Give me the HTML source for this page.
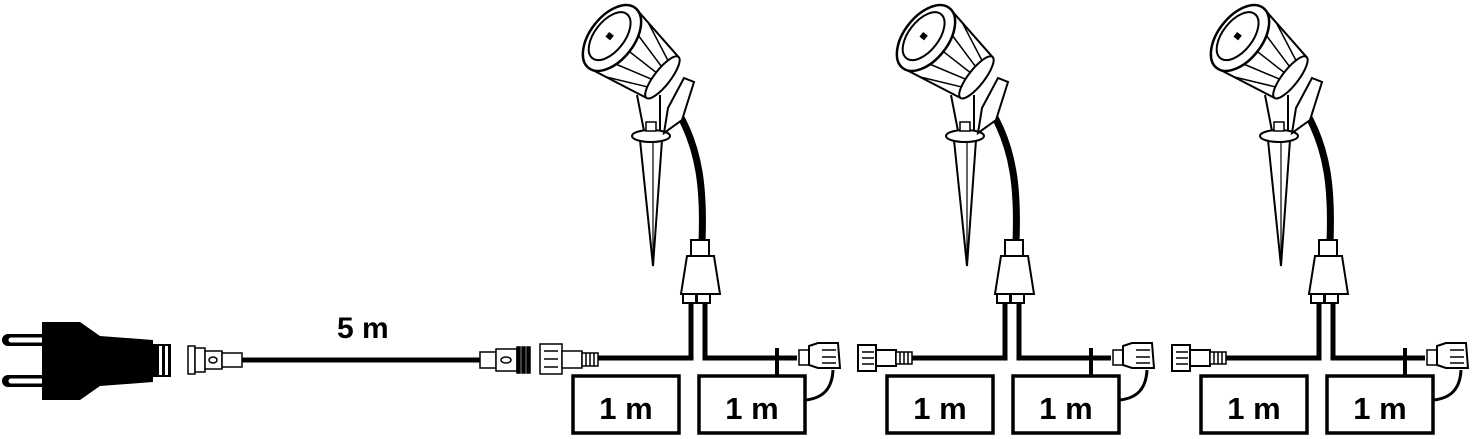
<!DOCTYPE html>
<html><head><style>
html,body{margin:0;padding:0;background:#fff;}
svg{display:block;}
text{font-family:"Liberation Sans",sans-serif;font-weight:bold;}
</style></head><body>
<svg width="1473" height="439" viewBox="0 0 1473 439" xmlns="http://www.w3.org/2000/svg">
<defs>
<g id="unit" fill="none" stroke="#000" stroke-width="2.5">
  <!-- spike -->
  <path d="M640,140 L662,140 L653,266 Z" fill="#fff" stroke-width="2"/>
  <path d="M653,140 L653,262" stroke-width="1.2"/>
  <ellipse cx="651" cy="136" rx="19" ry="6" fill="#fff" stroke-width="2"/>
  <path d="M637,95 L644,131 M660,95 L660,131" stroke-width="2"/>
  <rect x="646" y="122" width="10" height="9" fill="#fff" stroke-width="1.5"/>
  <!-- black cable -->
  <path d="M678,112 C700,150 704,190 702,242" stroke-width="7"/>
  <!-- bracket -->
  <path d="M684,78 L694,82 L682,120 L664,133 L668,108 Z" fill="#fff" stroke-width="2"/>
  <!-- head -->
  <g transform="translate(612,38) rotate(38)">
    <path d="M0,-38 L64,-26 L64,26 L0,38 Z" fill="#fff" stroke-width="2"/>
    <path d="M20,-34 L64,-14 M20,34 L64,14 M20,-18 L64,-6 M20,18 L64,6 M22,0 L64,0" stroke-width="1.5"/>
    <ellipse cx="64" cy="0" rx="8" ry="26" fill="#fff" stroke-width="2"/>
    <ellipse cx="0" cy="0" rx="22" ry="38" fill="#fff" stroke-width="2.5"/>
    <ellipse cx="-3" cy="0" rx="15" ry="28" fill="#fff" stroke-width="2"/>
    <rect x="-6" y="-3" width="6" height="6" fill="#000" stroke="none"/>
  </g>
  <!-- hub -->
  <rect x="691" y="240" width="18" height="16" fill="#fff" stroke-width="2"/>
  <path d="M687,256 L714,256 L720,294 L681,294 Z" fill="#fff" stroke-width="2"/>
  <rect x="683" y="294" width="13" height="9" fill="#fff" stroke-width="2"/>
  <rect x="697" y="294" width="13" height="9" fill="#fff" stroke-width="2"/>
  <!-- wires -->
  <path d="M691,303 L691,358 L598,358" stroke-width="5"/>
  <path d="M705,303 L705,358 L797,358" stroke-width="5"/>
  <path d="M777,348 L777,376" stroke-width="4"/>
  <!-- boxes -->
  <rect x="573" y="376" width="106" height="57" stroke-width="3.5"/>
  <rect x="699" y="376" width="106" height="57" stroke-width="3.5"/>
  <text x="626" y="419" font-size="31" text-anchor="middle" fill="#000" stroke="none">1 m</text>
  <text x="752" y="419" font-size="31" text-anchor="middle" fill="#000" stroke="none">1 m</text>
  <!-- male end connector -->
  <path d="M806,400 C822,398 832,390 833,370" stroke-width="3"/>
  <rect x="799" y="350" width="10" height="15" fill="#fff" stroke-width="1.5"/>
  <path d="M809,346 L818,343 L838,343 L840,368 L818,368 L809,365 Z" fill="#fff" stroke-width="2"/>
  <path d="M822,350 L836,350 M822,357 L836,357 M822,363 L836,363" stroke-width="1.5"/>
</g>
<g id="socket" fill="none" stroke="#000" stroke-width="2">
  <rect x="0" y="0" width="18" height="26" fill="#fff"/>
  <path d="M4,7 L16,7 M4,13 L16,13 M4,19 L16,19" stroke-width="1.5"/>
  <rect x="18" y="5" width="20" height="16" fill="#fff"/>
  <rect x="38" y="7" width="16" height="12" fill="#fff" stroke-width="1.5"/>
  <path d="M42,7 L42,19 M46,7 L46,19 M50,7 L50,19" stroke-width="1.5"/>
</g>
</defs>

<!-- plug -->
<path d="M8,340 L44,340 M8,381 L44,381" stroke="#000" stroke-width="12" stroke-linecap="round"/>
<path d="M11,340 L44,340 M11,381 L44,381" stroke="#fff" stroke-width="5" stroke-linecap="round"/>
<path d="M42,322 L80,322 L100,336 L153,340 L153,382 L100,386 L80,400 L42,400 Z" fill="#000"/>
<rect x="153" y="344" width="18" height="33" fill="#000"/>
<rect x="159" y="346" width="3" height="29" fill="#fff"/><rect x="165" y="346" width="3" height="29" fill="#fff"/>
<g stroke="#000" stroke-width="1.5" fill="#fff">
<rect x="188" y="346" width="7" height="28"/>
<rect x="195" y="348" width="10" height="24"/>
<rect x="205" y="351" width="17" height="18"/>
<ellipse cx="213" cy="360" rx="4" ry="3"/>
<rect x="222" y="353" width="20" height="14"/>
</g>
<line x1="242" y1="360" x2="480" y2="360" stroke="#000" stroke-width="5"/>
<text x="337" y="338" font-size="30" fill="#000">5 m</text>
<g stroke="#000" stroke-width="1.5" fill="#fff">
<rect x="480" y="352" width="16" height="16"/>
<rect x="496" y="349" width="21" height="22"/>
<ellipse cx="506" cy="360" rx="5" ry="3"/>
<rect x="517" y="347" width="3" height="26" fill="#000"/>
<rect x="522" y="347" width="3" height="26" fill="#000"/>
<rect x="527" y="347" width="3" height="26" fill="#000"/>
</g>
<!-- first input connector -->
<g stroke="#000" stroke-width="1.5" fill="#fff">
<rect x="540" y="344" width="22" height="30"/>
<path d="M544,351 L558,351 M544,359 L558,359 M544,367 L558,367" />
<rect x="562" y="351" width="20" height="17"/>
<rect x="582" y="353" width="16" height="13"/>
<path d="M586,353 L586,366 M590,353 L590,366 M594,353 L594,366"/>
</g>

<use href="#unit"/>
<use href="#unit" transform="translate(314,0)"/>
<use href="#unit" transform="translate(628,0)"/>
<use href="#socket" transform="translate(858,345)"/>
<use href="#socket" transform="translate(1172,345)"/>
</svg>
</body></html>
